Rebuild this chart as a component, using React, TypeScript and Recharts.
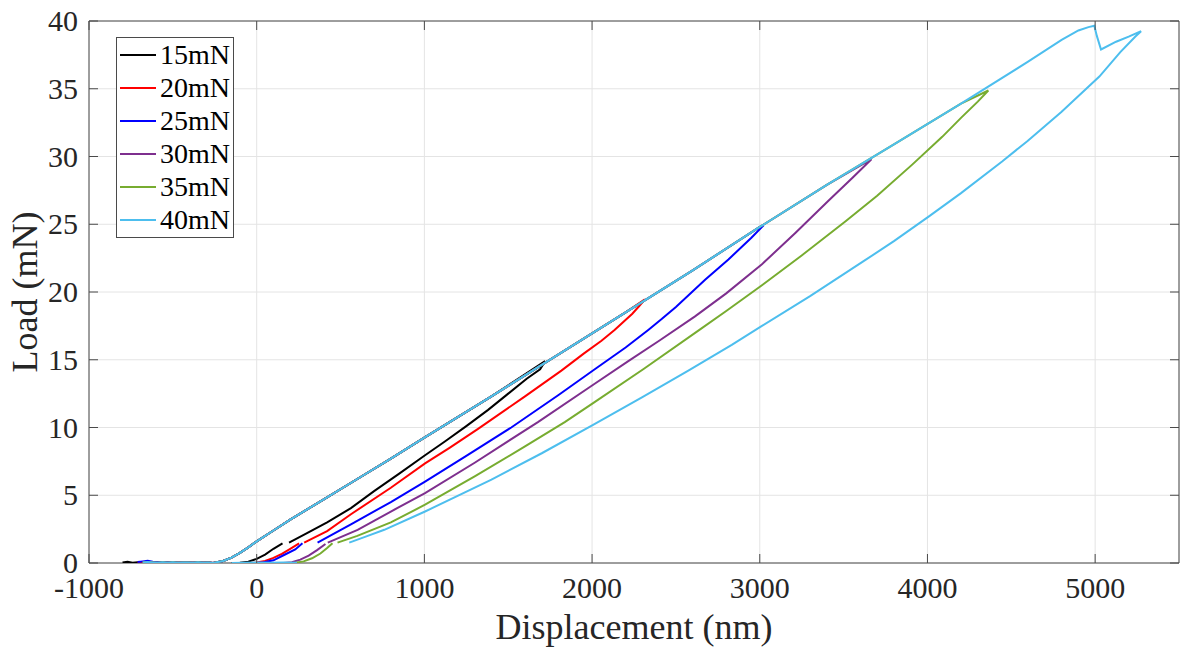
import React from 'react';
import { LineChart, Line, XAxis, YAxis, CartesianGrid, ReferenceArea, Legend } from 'recharts';

const FONT = '"Liberation Serif", "Times New Roman", serif';
const PLOT_TOP = 21;
const PLOT_RIGHT = 1179;
const TICK_LEN = 9;
const AXIS_COLOR = '#4a4a4a';

const xTicks = [-1000, 0, 1000, 2000, 3000, 4000, 5000];
const yTicks = [0, 5, 10, 15, 20, 25, 30, 35, 40];

const seriesNames = ['15mN', '20mN', '25mN', '30mN', '35mN', '40mN'];
const seriesColors = ['#000000', '#ff0000', '#0000ff', '#7e2f8e', '#77ac30', '#4dbeee'];

// approach noise before contact
const flatX = [-800, -770, -740, -710, -680, -650, -620, -590, -560, -530, -500, -470, -440, -410, -380, -350, -320, -290];
const flatY = [0.03, 0.09, 0.02, 0.05, 0.03, 0.07, 0.04, 0.01, 0.05, 0.02, 0.06, 0.02, 0.04, 0.03, 0.01, 0.05, 0.02, 0.03];
const blueFlatY = [0.03, 0.05, 0.04, 0.08, 0.12, 0.16, 0.1, 0.05, 0.07, 0.03, 0.06, 0.02, 0.04, 0.03, 0.02, 0.05, 0.02, 0.03];
const flatStart = [-800, -720, -720, -700, -700, -680];

// common loading branch
const loadX = [-260, -200, -150, -100, -50, 0, 100, 200, 400, 600, 800, 1000, 1400, 1800, 2200, 2600, 3000, 3400, 3800, 4200, 4600, 4800, 4900, 4960];
const loadY = [0, 0.15, 0.4, 0.75, 1.15, 1.6, 2.4, 3.2, 4.7, 6.2, 7.7, 9.25, 12.3, 15.4, 18.5, 21.6, 24.8, 27.9, 30.9, 33.9, 37.0, 38.6, 39.3, 39.55];

// max load points
const peakX = [1720, 2315, 3013, 3666, 4363, 4995];
const peakY = [14.9, 19.45, 24.8, 29.8, 34.87, 39.65];

// unloading branches
const unload15X = [1690, 1610, 1500, 1380, 1250, 1120, 1004, 850, 700, 562, 420, 300, 193];
const unload15Y = [14.3, 13.6, 12.5, 11.3, 10.1, 8.95, 7.95, 6.6, 5.3, 4.05, 3.0, 2.2, 1.5];
const unload20X = [2280, 2240, 2134, 2056, 1950, 1817, 1600, 1320, 1150, 1004, 800, 562, 420, 283];
const unload20Y = [18.95, 18.4, 17.2, 16.4, 15.45, 14.2, 12.3, 9.9, 8.5, 7.35, 5.55, 3.6, 2.35, 1.5];
const unload25X = [2950, 2813, 2674, 2500, 2415, 2335, 2200, 2016, 1800, 1518, 1250, 1004, 800, 562, 450, 363];
const unload25Y = [24.0, 22.4, 20.9, 18.9, 18.0, 17.2, 15.9, 14.3, 12.4, 10.0, 7.9, 6.0, 4.5, 2.85, 2.1, 1.5];
const unload30X = [3550, 3411, 3212, 3013, 2800, 2614, 2400, 2216, 2000, 1677, 1300, 1004, 800, 602, 424];
const unload30Y = [28.4, 26.75, 24.35, 22.05, 19.9, 18.2, 16.4, 14.9, 13.1, 10.4, 7.4, 5.15, 3.8, 2.45, 1.5];
const unload35X = [4300, 4200, 4088, 3909, 3700, 3510, 3250, 3013, 2800, 2640, 2305, 2006, 1837, 1600, 1300, 1004, 800, 600, 482];
const unload35Y = [34.05, 32.85, 31.45, 29.4, 27.1, 25.2, 22.7, 20.5, 18.6, 17.2, 14.3, 11.8, 10.4, 8.6, 6.4, 4.3, 3.0, 2.0, 1.5];
const unload40X = [5010, 5035, 5125, 5200, 5274, 5240, 5150, 5025, 4800, 4597, 4447, 4200, 4009, 3800, 3610, 3300, 3013, 2833, 2574, 2300, 2006, 1700, 1400, 1004, 761, 650, 552];
const unload40Y = [38.9, 37.9, 38.47, 38.85, 39.25, 38.85, 37.7, 35.9, 33.3, 31.15, 29.65, 27.3, 25.58, 23.75, 22.2, 19.7, 17.5, 16.1, 14.2, 12.25, 10.2, 8.1, 6.15, 3.8, 2.45, 1.95, 1.5];

// last part of the unload after the hold
const tail15X = [154, 100, 50, 0, -50, -100, -150];
const tail15Y = [1.45, 1.05, 0.62, 0.3, 0.1, 0.02, 0];
const tail20X = [253, 200, 150, 100, 50, 0, -40];
const tail20Y = [1.45, 1.05, 0.68, 0.38, 0.15, 0.03, 0];
const tail25X = [273, 230, 163, 100, 42, 0];
const tail25Y = [1.45, 1.0, 0.59, 0.2, 0.05, 0];
const tail30X = [410, 360, 310, 260, 210, 160];
const tail30Y = [1.4, 0.95, 0.55, 0.25, 0.06, 0];
const tail35X = [452, 420, 380, 330, 280, 230, 190];
const tail35Y = [1.45, 1.1, 0.7, 0.35, 0.12, 0.02, 0];
const tail40X = [240, 160, 80, 0, -80, -150];
const tail40Y = [0.02, 0.04, 0.01, 0.03, 0.02, 0];

const unloadX = [unload15X, unload20X, unload25X, unload30X, unload35X, unload40X];
const unloadY = [unload15Y, unload20Y, unload25Y, unload30Y, unload35Y, unload40Y];
const tailX = [tail15X, tail20X, tail25X, tail30X, tail35X, tail40X];
const tailY = [tail15Y, tail20Y, tail25Y, tail30Y, tail35Y, tail40Y];

const buildSeries = (i: number) => {
  const pts: { x: number; y: number | null }[] = [];
  const noise = i === 2 ? blueFlatY : flatY;
  flatX.forEach((x, k) => {
    if (x >= flatStart[i]) pts.push({ x, y: noise[k] });
  });
  loadX.forEach((x, k) => {
    if (x < peakX[i]) pts.push({ x, y: loadY[k] });
  });
  pts.push({ x: peakX[i], y: peakY[i] });
  unloadX[i].forEach((x, k) => pts.push({ x, y: unloadY[i][k] }));
  // gap between the hold and the final unload
  pts.push({ x: tailX[i][0], y: null });
  tailX[i].forEach((x, k) => pts.push({ x, y: tailY[i][k] }));
  return pts;
};

const XTick = (props: any) => {
  const { x, y, payload } = props;
  return (
    <g>
      <line x1={x} x2={x} y1={y} y2={y - TICK_LEN} stroke={AXIS_COLOR} />
      <line x1={x} x2={x} y1={PLOT_TOP} y2={PLOT_TOP + TICK_LEN} stroke={AXIS_COLOR} />
      <text x={x} y={y + 35} textAnchor="middle" fontFamily={FONT} fontSize={30} fill="#262626">
        {payload.value}
      </text>
    </g>
  );
};

const YTick = (props: any) => {
  const { x, y, payload } = props;
  return (
    <g>
      <line x1={x} x2={x + TICK_LEN} y1={y} y2={y} stroke={AXIS_COLOR} />
      <line x1={PLOT_RIGHT - TICK_LEN} x2={PLOT_RIGHT} y1={y} y2={y} stroke={AXIS_COLOR} />
      <text x={x - 11} y={y + 10} textAnchor="end" fontFamily={FONT} fontSize={30} fill="#262626">
        {payload.value}
      </text>
    </g>
  );
};

const XLabel = (props: any) => {
  const { x, y, width } = props.viewBox;
  return (
    <text x={x + width / 2} y={y + 76} textAnchor="middle" fontFamily={FONT} fontSize={36} fill="#262626">
      Displacement (nm)
    </text>
  );
};

const YLabel = (props: any) => {
  const { x, y, height } = props.viewBox;
  const cx = x + 37;
  const cy = y + height / 2;
  return (
    <text x={cx} y={cy} transform={`rotate(-90, ${cx}, ${cy})`} textAnchor="middle" fontFamily={FONT} fontSize={36} fill="#262626">
      Load (mN)
    </text>
  );
};

const LegendBox = () => (
  <div
    style={{
      width: 118,
      boxSizing: 'border-box',
      border: `1px solid ${AXIS_COLOR}`,
      background: '#fff',
      padding: '0 0 1px 3px',
      fontFamily: FONT,
      fontSize: 28,
      color: '#000',
    }}
  >
    {seriesNames.map((name, i) => (
      <div key={name} style={{ display: 'flex', alignItems: 'center', height: 33 }}>
        <span style={{ display: 'inline-block', width: 36, borderTop: `2px solid ${seriesColors[i]}`, marginRight: 4 }} />
        <span style={{ lineHeight: '33px' }}>{name}</span>
      </div>
    ))}
  </div>
);

export default function App() {
  return (
    <div style={{ position: 'absolute', left: 0, top: 0, width: 1182, height: 652, background: '#fff' }}>
      <LineChart width={1182} height={652} margin={{ top: 21, right: 3, bottom: 0, left: 0 }}>
        <CartesianGrid stroke="#e4e4e4" />
        <XAxis
          dataKey="x"
          type="number"
          domain={[-1000, 5500]}
          ticks={xTicks}
          interval={0}
          allowDataOverflow
          height={89}
          tickSize={0}
          tickMargin={0}
          tickLine={false}
          axisLine={false}
          tick={XTick}
          label={<XLabel />}
        />
        <YAxis
          type="number"
          domain={[0, 40]}
          ticks={yTicks}
          interval={0}
          allowDataOverflow
          width={89}
          tickSize={0}
          tickMargin={0}
          tickLine={false}
          axisLine={false}
          tick={YTick}
          label={<YLabel />}
        />
        {seriesNames.map((name, i) => (
          <Line
            key={name}
            data={buildSeries(i)}
            dataKey="y"
            name={name}
            type="linear"
            stroke={seriesColors[i]}
            strokeWidth={2}
            dot={false}
            activeDot={false}
            connectNulls={false}
            isAnimationActive={false}
          />
        ))}
        <ReferenceArea x1={-1000} x2={5500} y1={0} y2={40} fill="none" stroke={AXIS_COLOR} strokeWidth={1} />
        <Legend
          layout="vertical"
          align="center"
          verticalAlign="middle"
          content={() => <LegendBox />}
          wrapperStyle={{ left: 116, top: 37, width: 'auto' }}
        />
      </LineChart>
    </div>
  );
}
